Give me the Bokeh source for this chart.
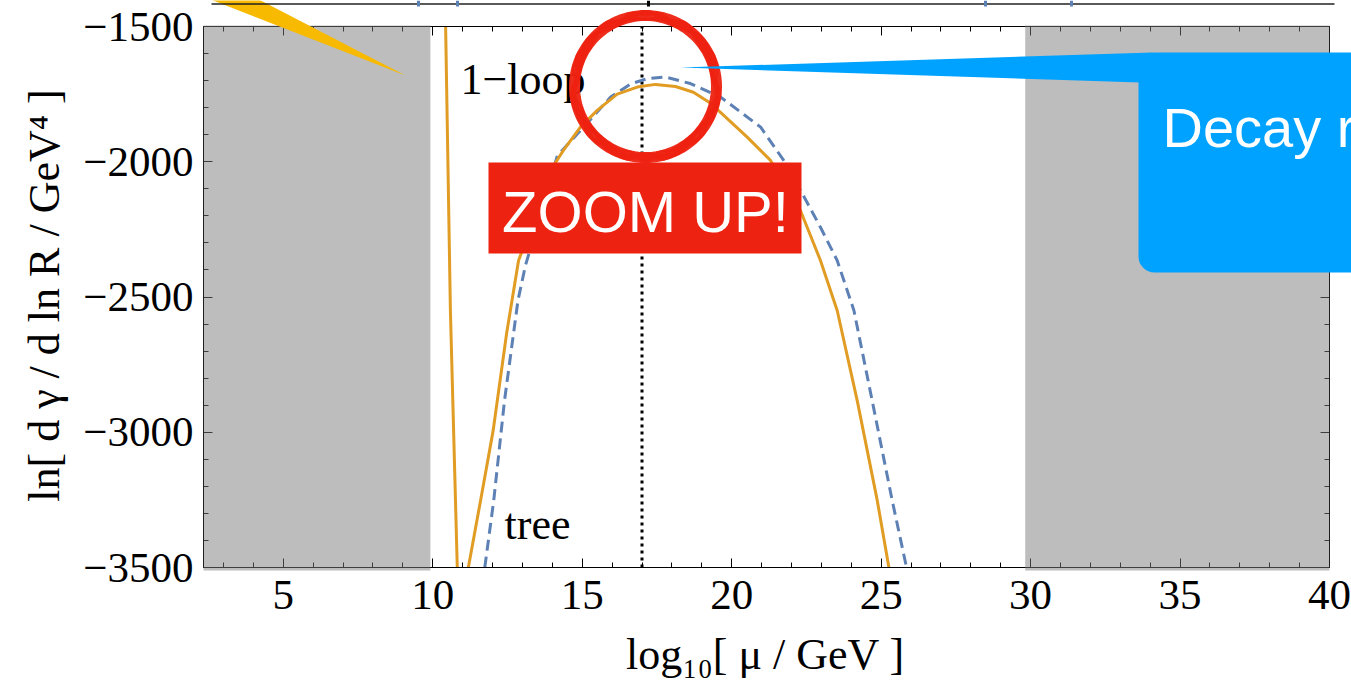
import math
from bokeh.plotting import figure
from bokeh.models import LinearAxis, SingleIntervalTicker, BoxAnnotation, PolyAnnotation, Label, Range1d
from bokeh.embed import file_html
from bokeh.resources import INLINE

# ---------------- data ----------------
X_START, X_END = 2.33, 40.0
Y_START, Y_END = -3500, -1500

y_tick_values = [-3500, -3000, -2500, -2000, -1500]
y_tick_labels = ["\u22123500", "\u22123000", "\u22122500", "\u22122000", "\u22121500"]

# tree level (blue dashed)
tree_x = [11.74, 12.04, 12.40, 12.85, 13.10, 14.17, 15.04, 15.95, 16.62, 17.17, 17.79,
          18.62, 19.63, 20.97, 21.74, 22.36, 22.97, 23.53, 24.09, 24.70, 25.37, 25.85]
tree_y = [-3500, -3252, -2883, -2513, -2384, -1977, -1873, -1761, -1712, -1693, -1687,
          -1711, -1761, -1872, -1995, -2117, -2242, -2365, -2550, -2883, -3252, -3500]

# 1-loop (orange), steep branch near the lower end
loop_spike_x = [10.43, 10.59, 10.82]
loop_spike_y = [-1500, -2550, -3500]
# 1-loop main hump
loop_x = [11.19, 11.60, 12.02, 12.47, 12.87, 14.11, 14.37, 14.94, 15.50, 16.17, 16.84, 17.45,
          18.12, 18.72, 19.31, 20.52, 21.30, 22.30, 22.97, 23.53, 24.20, 24.87, 25.26]
loop_y = [-3500, -3252, -2994, -2635, -2365, -2003, -1958, -1872, -1810, -1750, -1724, -1714,
          -1722, -1743, -1785, -1909, -1995, -2180, -2365, -2550, -2883, -3252, -3500]

# vertical marker and excluded (grey) bands
marker_x = 17.0
band_low_end = 9.92
band_high_start = 29.82

# ---------------- geometry of the page ----------------
W, H = 1351, 685
FRAME_L, FRAME_R, FRAME_T, FRAME_B = 203, 1329, 26, 567
sx = (FRAME_R - FRAME_L) / (X_END - X_START)
sy = (FRAME_B - FRAME_T) / (Y_END - Y_START)
x_lo = X_START - FRAME_L / sx
x_hi = X_END + (W - FRAME_R) / sx
y_hi = Y_END + FRAME_T / sy
y_lo = Y_START - (H - FRAME_B) / sy

p = figure(width=W, height=H, x_range=Range1d(x_lo, x_hi), y_range=Range1d(y_lo, y_hi),
           output_backend="svg", toolbar_location=None, min_border=0,
           background_fill_color="white", border_fill_color="white",
           outline_line_color=None)
p.xgrid.visible = False
p.ygrid.visible = False

SERIF = "Liberation Serif"
SANS = "Liberation Sans"

def style_axis(ax, show_labels=True):
    ax.major_tick_in = 9
    ax.major_tick_out = 0
    ax.minor_tick_in = 5
    ax.minor_tick_out = 0
    ax.axis_line_color = "black"
    ax.major_tick_line_color = "black"
    ax.minor_tick_line_color = "black"
    ax.major_label_text_font = SERIF
    if show_labels:
        ax.major_label_text_font_size = "43px"
        ax.major_label_text_color = "black"
    else:
        ax.major_label_text_font_size = "1px"
        ax.major_label_text_color = None
        ax.major_label_text_alpha = 0
        ax.major_label_standoff = 0

xb = p.xaxis[0]
yl = p.yaxis[0]
xb.ticker = SingleIntervalTicker(interval=5, num_minor_ticks=5)
yl.ticker = SingleIntervalTicker(interval=500, num_minor_ticks=5)
xb.fixed_location = Y_START
yl.fixed_location = X_START
xb.bounds = (X_START, X_END)
yl.bounds = (Y_START, Y_END)
style_axis(xb)
style_axis(yl)
xb.major_label_standoff = 13
yl.major_label_standoff = 10
yl.major_label_overrides = dict(zip(y_tick_values, y_tick_labels))

top_ax = LinearAxis(ticker=SingleIntervalTicker(interval=5, num_minor_ticks=5),
                    fixed_location=Y_END, bounds=(X_START, X_END))
right_ax = LinearAxis(ticker=SingleIntervalTicker(interval=500, num_minor_ticks=5),
                      fixed_location=X_END, bounds=(Y_START, Y_END))
style_axis(top_ax, False)
style_axis(right_ax, False)
p.add_layout(top_ax, "above")
p.add_layout(right_ax, "right")

# ---------------- curves ----------------
ORANGE = "#E19C24"
BLUE = "#5E81B5"
p.segment(x0=[marker_x], y0=[Y_START], x1=[marker_x], y1=[Y_END],
          line_color="black", line_width=3, line_dash="3 4")
p.line(tree_x, tree_y, line_color=BLUE, line_width=3, line_dash="11 6", line_join="round")
p.line(loop_spike_x, loop_spike_y, line_color=ORANGE, line_width=3)
p.line(loop_x, loop_y, line_color=ORANGE, line_width=3, line_join="round")

# ---------------- grey bands ----------------
GREY = "#7C7C7C"
p.add_layout(BoxAnnotation(left=X_START, right=band_low_end, top=Y_END + 1 / sy,
                           bottom=Y_START - 3 / sy, fill_color=GREY, fill_alpha=0.5, line_alpha=0))
p.add_layout(BoxAnnotation(left=band_high_start, right=X_END, top=Y_END + 1 / sy,
                           bottom=Y_START - 3 / sy, fill_color=GREY, fill_alpha=0.5, line_alpha=0))

# ---------------- texts and slide decorations (canvas pixels) ----------------
BASE_SHIFT = 0.37  # where the renderer puts the alphabetic baseline

def label(x, baseline_y, text, font, size, color, align="left", style="normal"):
    return Label(x=x, y=baseline_y - BASE_SHIFT * size, x_units="canvas", y_units="canvas",
                 text=text, text_font=font, text_font_size=f"{size}px", text_color=color,
                 text_align=align, text_baseline="alphabetic", text_font_style=style)

p.add_layout(label(460, 95, "1\u2212loop", SERIF, 44, "black"))
p.add_layout(label(504, 540, "tree", SERIF, 44, "black"))

# axis titles
p.add_layout(label(765, 670, "log\u2081\u2080[ \u03bc / GeV ]", SERIF, 44, "black", "center"))
p.add_layout(Label(x=60 - BASE_SHIFT * 44, y=295, x_units="canvas", y_units="canvas",
                   text="ln[ d \u03b3 / d ln R / GeV\u2074 ]", angle=math.pi / 2,
                   text_font=SERIF, text_font_size="44px", text_color="black",
                   text_align="center", text_baseline="alphabetic"))

RED = "#EE2211"
p.add_layout(BoxAnnotation(left=488, right=801, top=162, bottom=253,
                           left_units="canvas", right_units="canvas",
                           top_units="canvas", bottom_units="canvas",
                           fill_color=RED, fill_alpha=1, line_alpha=0))
p.add_layout(label(645, 232, "ZOOM UP!", SANS, 58, "white", "center"))

cx, cy = 645, 86
N = 120
for r, amp, k, lw in [(71, 0, 0, 11), (71, 3.0, 7, 4), (72, 3.0, 11, 3), (70, 2.5, 5, 3),
                      (73, 2.0, 17, 2), (69, 2.0, 13, 2)]:
    xs, ys = [], []
    for i in range(N + 1):
        t = 2 * math.pi * i / N
        rr = r + amp * math.sin(k * t)
        xs.append(cx + rr * math.cos(t))
        ys.append(cy + rr * math.sin(t))
    p.add_layout(PolyAnnotation(xs=xs, ys=ys, xs_units="canvas", ys_units="canvas",
                                fill_alpha=0, line_color=RED, line_width=lw, line_alpha=0.95))

BLUE_CALL = "#00A2FF"
p.add_layout(PolyAnnotation(xs=[680, 1152, 1140], ys=[67, 52, 82],
                            xs_units="canvas", ys_units="canvas",
                            fill_color=BLUE_CALL, fill_alpha=1, line_alpha=0))
p.add_layout(BoxAnnotation(left=1138, right=1420, top=52, bottom=272,
                           left_units="canvas", right_units="canvas",
                           top_units="canvas", bottom_units="canvas",
                           fill_color=BLUE_CALL, fill_alpha=1, line_alpha=0, border_radius=16))
p.add_layout(label(1162, 148, "Decay rate", SANS, 56, "white"))

YELLOW = "#F8BA00"
p.add_layout(PolyAnnotation(xs=[187, 241, 405], ys=[-10, -10, 75],
                            xs_units="canvas", ys_units="canvas",
                            fill_color=YELLOW, fill_alpha=1, line_alpha=0))

# fragment of the frame of the panel above
p.add_layout(PolyAnnotation(xs=[211, 1334], ys=[3.5, 3.5], xs_units="canvas", ys_units="canvas",
                            fill_alpha=0, line_color="#222222", line_alpha=1, line_width=1.6))
for mx, col in [(418, BLUE), (457, BLUE), (648, "black"), (985, BLUE), (1071, BLUE)]:
    p.add_layout(PolyAnnotation(xs=[mx, mx], ys=[0, 6], xs_units="canvas", ys_units="canvas",
                                fill_alpha=0, line_color=col, line_alpha=1, line_width=3))

open("out.html", "w").write(file_html(p, INLINE))
